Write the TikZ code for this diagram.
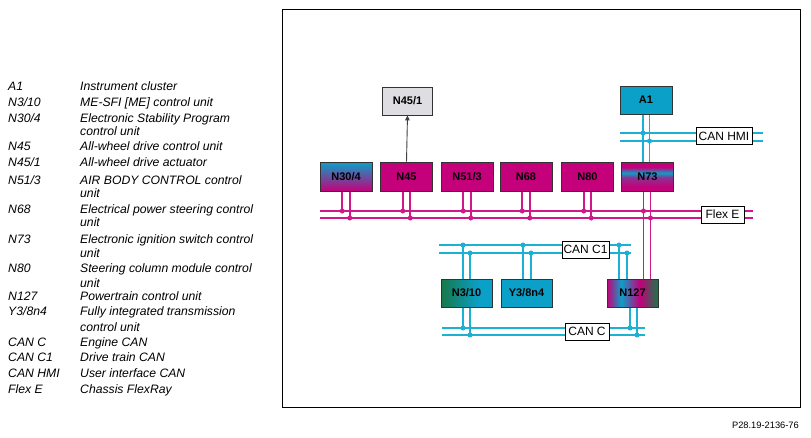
\documentclass[tikz,border=0pt]{standalone}
\usepackage{fontspec}
\setmainfont{Liberation Sans}
\usetikzlibrary{calc,arrows.meta}
\definecolor{mag}{RGB}{196,0,122}
\definecolor{magline}{RGB}{208,24,138}
\definecolor{cyn}{RGB}{10,160,200}
\definecolor{cynline}{RGB}{28,176,212}
\definecolor{dgrn}{RGB}{22,120,72}
\definecolor{lgrey}{RGB}{222,222,226}
\pgfdeclarelayer{bg}
\pgfsetlayers{bg,main}
\pgfdeclarehorizontalshading{ntwoseven}{100bp}{color(0bp)=(mag); color(25bp)=(mag); color(39bp)=(cyn); color(57bp)=(mag); color(75bp)=(dgrn); color(100bp)=(dgrn)}
\pgfdeclarehorizontalshading{nthreeten}{100bp}{color(0bp)=(dgrn); color(25bp)=(dgrn); color(62bp)=(cyn); color(75bp)=(cyn); color(100bp)=(cyn)}
\pgfdeclarehorizontalshading{nthirtyfour}{100bp}{color(0bp)=(mag); color(25bp)=(mag); color(75bp)=(cyn); color(100bp)=(cyn)}
\pgfdeclarehorizontalshading{nseventythree}{100bp}{color(0bp)=(mag); color(25bp)=(mag); color(32bp)=(mag); color(48bp)=(mag!70!cyn); color(56bp)=(cyn); color(66bp)=(mag); color(75bp)=(mag); color(100bp)=(mag)}
\tikzset{
  unitbox/.style={draw=black!80, line width=0.8pt, minimum width=52pt, minimum height=29pt, inner sep=0pt, font=\bfseries\fontsize{11}{13}\selectfont},
  pinkbox/.style={unitbox, fill=mag},
  cyanbox/.style={unitbox, fill=cyn},
  buslabel/.style={draw=black, line width=0.8pt, fill=white, inner sep=0pt, minimum height=17pt, font=\fontsize{12}{14}\selectfont},
  pk/.style={draw=magline, line width=1.7pt},
  cy/.style={draw=cynline, line width=1.7pt},
  legab/.style={anchor=base west, font=\itshape\fontsize{12.2}{14}\selectfont, inner sep=0pt},
}
\newcommand{\pkdot}[1]{\fill[magline] (#1) circle (2.5);}
\newcommand{\cydot}[1]{\fill[cynline] (#1) circle (2.5);}
\begin{document}
\begin{tikzpicture}[x=1pt,y=-1pt]
\useasboundingbox (0,0) rectangle (811,437);
% frame
\draw[line width=1pt] (282,9.5) rectangle (800,407);
% legend
\foreach \y/\a/\d in {86/A1/Instrument cluster, 102/N3\slash10/ME-SFI [ME] control unit, 118/N30\slash4/Electronic Stability Program, 146/N45/All-wheel drive control unit, 162/N45\slash1/All-wheel drive actuator, 180/N51\slash3/AIR BODY CONTROL control, 209/N68/Electrical power steering control, 239/N73/Electronic ignition switch control, 268/N80/Steering column module control, 296/N127/Powertrain control unit, 311/Y3\slash8n4/Fully integrated transmission, 342/CAN C/Engine CAN, 357/CAN C1/Drive train CAN, 373/CAN HMI/User interface CAN, 389/Flex E/Chassis FlexRay}{
  \node[legab] (la\y) at (8,\y+4) {\a};
  \node[legab] (ld\y) at (80,\y+4) {\d};
}
\foreach \y/\d in {131/control unit, 193/unit, 222/unit, 253/unit, 283/unit, 327/control unit}{
  \node[legab] (lc\y) at (80,\y+4) {\d};
}
\node[anchor=east, font=\fontsize{9.3}{11}\selectfont, inner sep=0pt] (credit) at (799,425) {P28.19-2136-76};
% units
\node[unitbox, shading=nthirtyfour, shading angle=90] (n304) at (346,176.5) {N30/4};
\node[pinkbox] (n45) at (406.5,176.5) {N45};
\node[pinkbox] (n513) at (467,176.5) {N51/3};
\node[pinkbox] (n68) at (526,176.5) {N68};
\node[pinkbox] (n80) at (587.5,176.5) {N80};
\node[unitbox, shading=nseventythree, shading angle=90] (n73) at (647.5,176.5) {N73};
\node[cyanbox, minimum height=28pt] (a1) at (646,100) {A1};
\node[unitbox, fill=lgrey, minimum width=50pt, minimum height=28pt] (n451) at (407.5,101) {N45/1};
\node[unitbox, shading=nthreeten, minimum width=51pt, minimum height=28pt] (n310) at (466.5,293) {N3/10};
\node[cyanbox, minimum width=51pt, minimum height=28pt] (y38) at (526.5,293) {Y3/8n4};
\node[unitbox, shading=ntwoseven, minimum width=51pt, minimum height=28pt] (n127) at (632.5,293) {N127};
% bus labels
\node[buslabel, minimum width=56pt] (lhmi) at (724,136) {CAN HMI};
\node[buslabel, minimum width=43pt] (lflex) at (722.5,214.5) {Flex E};
\node[buslabel, minimum width=47pt] (lc1) at (585.5,249.5) {CAN C1};
\node[buslabel, minimum width=44pt] (lc) at (587,331.5) {CAN C};
% arrow
\draw[black!75, line width=0.9pt, -{Triangle[length=5pt,width=4.5pt]}] (n45.north) -- (n451.south);
\begin{pgfonlayer}{bg}
\fill[white] (0,0) rectangle (811,437);
% bus end points
\coordinate (hA) at (620,133); \coordinate (hA2) at (763,133);
\coordinate (hB) at (620,141); \coordinate (hB2) at (763,141);
\coordinate (fA) at (320,211); \coordinate (fA2) at (753,211);
\coordinate (fB) at (320,218); \coordinate (fB2) at (753,218);
\coordinate (c1A) at (439,245); \coordinate (c1A2) at (631,245);
\coordinate (c1B) at (439,253); \coordinate (c1B2) at (631,253);
\coordinate (cA) at (442,328); \coordinate (cA2) at (645,328);
\coordinate (cB) at (442,335); \coordinate (cB2) at (645,335);
\draw[cy] (hA) -- (hA2);
\draw[cy] (hB) -- (hB2);
\draw[pk] (fA) -- (fA2);
\draw[pk] (fB) -- (fB2);
\draw[cy] (c1A) -- (c1A2);
\draw[cy] (c1B) -- (c1B2);
\draw[cy] (cA) -- (cA2);
\draw[cy] (cB) -- (cB2);
% FlexRay drops
\foreach \n in {n304,n45,n513,n68,n80}{
  \coordinate (t1) at ($(\n.south)+(-3.75,0)$);
  \coordinate (t2) at ($(\n.south)+(3.75,0)$);
  \draw[pk] (t1) -- (t1 |- fA);
  \draw[pk] (t2) -- (t2 |- fB);
  \pkdot{t1 |- fA}
  \pkdot{t2 |- fB}
}
% N73 to N127 (Flex E)
\coordinate (u1) at ($(n73.south)+(-4,0)$);
\coordinate (u2) at ($(n73.south)+(3,0)$);
\draw[pk] (u1) -- (u1 |- n127.north);
\draw[pk] (u2) -- (u2 |- n127.north);
\pkdot{u1 |- fA}
\pkdot{u2 |- fB}
% A1 to N73 (CAN HMI)
\coordinate (v1) at ($(a1.south)+(-3,0)$);
\coordinate (v2) at ($(a1.south)+(3.5,0)$);
\draw[cy] (v1) -- (v1 |- n73.north);
\draw[cy] (v2) -- (v2 |- n73.north);
\cydot{v1 |- hA}
\cydot{v2 |- hB}
% N3/10
\coordinate (w1) at ($(n310.north)+(-3.5,0)$);
\coordinate (w2) at ($(n310.north)+(3.5,0)$);
\draw[cy] (w1) -- (w1 |- c1A);
\draw[cy] (w2) -- (w2 |- c1B);
\cydot{w1 |- c1A}
\cydot{w2 |- c1B}
\coordinate (w3) at ($(n310.south)+(-3.5,0)$);
\coordinate (w4) at ($(n310.south)+(3.5,0)$);
\draw[cy] (w3) -- (w3 |- cA);
\draw[cy] (w4) -- (w4 |- cB);
\cydot{w3 |- cA}
\cydot{w4 |- cB}
% Y3/8n4
\coordinate (y1) at ($(y38.north)+(-3.5,0)$);
\coordinate (y2) at ($(y38.north)+(4.5,0)$);
\draw[cy] (y1) -- (y1 |- c1A);
\draw[cy] (y2) -- (y2 |- c1B);
\cydot{y1 |- c1A}
\cydot{y2 |- c1B}
% N127
\coordinate (z1) at ($(n127.north)+(-13.5,0)$);
\coordinate (z2) at ($(n127.north)+(-5.5,0)$);
\draw[cy] (z1) -- (z1 |- c1A);
\draw[cy] (z2) -- (z2 |- c1B);
\cydot{z1 |- c1A}
\cydot{z2 |- c1B}
\coordinate (z3) at ($(n127.south)+(-2.5,0)$);
\coordinate (z4) at ($(n127.south)+(4.5,0)$);
\draw[cy] (z3) -- (z3 |- cA);
\draw[cy] (z4) -- (z4 |- cB);
\cydot{z3 |- cA}
\cydot{z4 |- cB}
\end{pgfonlayer}
\end{tikzpicture}
\end{document}
